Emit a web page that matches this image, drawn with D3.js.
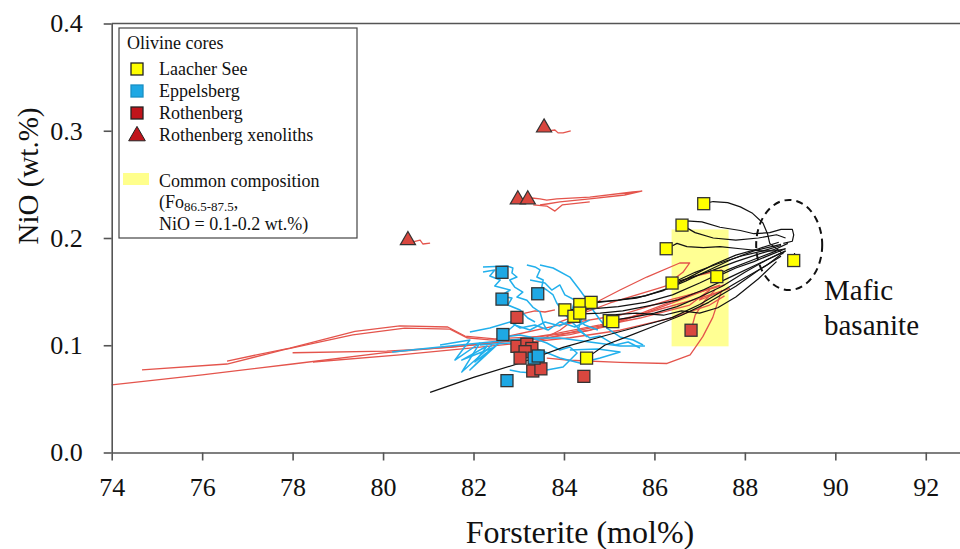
<!DOCTYPE html>
<html><head><meta charset="utf-8">
<script src="https://cdn.jsdelivr.net/npm/d3@7"></script>
<style>body{margin:0;background:#fff} svg{display:block} svg text{font-family:'Liberation Serif','Times New Roman',Tinos,'DejaVu Serif','Noto Serif',serif !important}</style>
</head><body><svg id="c" width="960" height="549"></svg>
<script>
// ---------- data ----------
const xTicks = [74,76,78,80,82,84,86,88,90,92];
const yTicks = [0.0,0.1,0.2,0.3,0.4];
const xDomain = [74,93];
const yDomain = [0,0.4];

// Common composition box (Fo, NiO)
const commonFo = [86.38,87.64];
const commonNiO = [0.099,0.208];
// Mafic basanite ellipse: centre and semi-axes (Fo, NiO)
const maficCentre = [88.98,0.1935];
const maficRadii = [0.73,0.042];

// Olivine cores
const laacherSee = [[87.09,0.232],[86.61,0.212],[86.26,0.190],[89.08,0.179],[86.39,0.158],[87.38,0.164],
  [84.02,0.133],[84.35,0.138],[84.60,0.140],[84.22,0.127],[84.35,0.130],[85.00,0.123],[85.08,0.122],[84.50,0.088]];
const eppelsberg = [[82.63,0.168],[82.63,0.143],[83.42,0.148],[82.65,0.110],[83.34,0.088],[83.43,0.090],[82.74,0.067]];
const rothenberg = [[82.96,0.126],[82.96,0.099],[83.18,0.101],[83.29,0.097],[83.14,0.094],[83.03,0.088],
  [83.31,0.076],[83.49,0.078],[84.44,0.071],[86.81,0.114]];
const xenoliths = [[83.56,0.302],[82.98,0.235],[83.20,0.235],[80.55,0.197]];

// Zoning profiles
const laacherProfiles = [
  [[87.09,0.232],[87.3,0.234],[87.62,0.233],[87.9,0.229],[88.17,0.223],[88.4,0.214],[88.5,0.204],[88.55,0.195],[88.7,0.19],[88.85,0.185]],
  [[86.61,0.212],[86.7,0.216],[87.05,0.215],[87.45,0.21],[87.9,0.207],[88.2,0.204],[88.55,0.205],[88.8,0.208],[89.05,0.208],[89.08,0.203],[89.05,0.197],[88.85,0.195]],
  [[86.61,0.212],[86.9,0.205],[87.3,0.2],[87.8,0.198],[88.3,0.2],[88.7,0.203],[88.9,0.2]],
  [[86.26,0.19],[86.39,0.1925],[86.5,0.195],[86.72,0.192],[87.08,0.191],[87.45,0.192],[87.9,0.19],[88.35,0.188],[88.65,0.188],[88.9,0.19]],
  [[89.08,0.179],[89.1,0.186]],
  [[86.39,0.158],[86.8,0.163],[87.3,0.17],[87.8,0.178],[88.3,0.185],[88.7,0.19],[88.95,0.195]],
  [[86.39,0.158],[86.9,0.168],[87.4,0.176],[87.9,0.183],[88.4,0.188],[88.8,0.193]],
  [[87.38,0.164],[87.8,0.172],[88.2,0.178],[88.6,0.185],[88.9,0.19]],
  [[84.6,0.14],[85.2,0.142],[85.8,0.146],[86.3,0.153],[86.8,0.164],[87.3,0.175],[87.8,0.184],[88.3,0.19],[88.75,0.196]],
  [[84.35,0.138],[85.0,0.141],[85.6,0.144],[86.2,0.151],[86.7,0.16],[87.2,0.17],[87.7,0.18],[88.2,0.188],[88.8,0.194]],
  [[84.02,0.133],[84.6,0.134],[85.2,0.136],[85.8,0.14],[86.4,0.147],[87.0,0.158],[87.6,0.17],[88.2,0.18],[88.7,0.188]],
  [[85.0,0.123],[85.5,0.126],[86.0,0.13],[86.5,0.136],[87.0,0.145],[87.5,0.155],[88.0,0.168],[88.5,0.18],[88.9,0.188]],
  [[84.29,0.129],[84.8,0.13],[85.3,0.132],[85.9,0.137],[86.5,0.142],[87.1,0.152],[87.7,0.164],[88.3,0.176],[88.8,0.186]],
  [[84.5,0.088],[84.9,0.1],[85.4,0.108],[86.0,0.118],[86.6,0.128],[87.2,0.14],[87.8,0.155],[88.3,0.17],[88.8,0.183]],
  [[81.04,0.056],[82.0,0.07],[83.0,0.083],[83.98,0.098],[85.0,0.11],[85.97,0.121],[86.4,0.126],[87.0,0.138],[87.8,0.158],[88.5,0.175],[88.9,0.188]],
  [[85.0,0.128],[85.6,0.13],[86.2,0.128],[86.6,0.132],[87.0,0.13],[87.4,0.135],[87.8,0.145],[88.3,0.162],[88.7,0.178]]
];
const rothenbergProfiles = [
  [[74.0,0.063],[76.0,0.0723],[78.0,0.0825],[80.0,0.0928],[81.9,0.1],[82.6,0.103],[83.5,0.106]],
  [[74.67,0.077],[76.55,0.0825],[77.79,0.0956],[79.33,0.1096],[80.48,0.116],[81.48,0.115],[81.85,0.107],[82.36,0.105],[83.25,0.105],[84.13,0.11],[85.0,0.118],[85.9,0.133],[86.78,0.147],[87.45,0.156]],
  [[76.55,0.0853],[77.94,0.0974],[79.38,0.113],[80.37,0.118],[81.43,0.117],[81.81,0.1086],[82.47,0.106],[83.47,0.108],[84.57,0.114],[85.67,0.128],[86.56,0.142],[87.22,0.153]],
  [[78.0,0.093],[80.08,0.0946],[81.48,0.098],[82.59,0.103],[83.69,0.11],[84.8,0.119],[85.9,0.131],[87.0,0.144],[87.67,0.153]],
  [[78.45,0.0844],[80.37,0.091],[81.92,0.0974],[83.03,0.102],[84.13,0.107],[85.24,0.114],[86.34,0.125],[87.22,0.1375],[87.55,0.146]],
  [[83.25,0.1],[83.91,0.114],[84.35,0.128],[84.8,0.142],[85.24,0.1515],[85.83,0.1636],[86.56,0.1767],[86.78,0.1767],[86.63,0.168],[86.47,0.163]],
  [[82.96,0.126],[83.14,0.13],[83.36,0.132],[83.58,0.131],[83.8,0.133]],
  [[83.62,0.088],[84.13,0.086],[85.24,0.084],[86.28,0.083],[86.79,0.091],[87.07,0.108],[87.29,0.126],[87.49,0.1515]],
  [[86.81,0.114],[86.9,0.128],[87.12,0.142],[87.34,0.1515]],
  [[82.59,0.1068],[83.91,0.1189],[85.24,0.1282],[86.34,0.1422],[87.0,0.1496],[87.55,0.1562]],
  [[83.03,0.1002],[84.35,0.1142],[85.68,0.1254],[86.78,0.1375],[87.22,0.1515],[87.0,0.1422],[87.45,0.1496]],
  [[83.91,0.1217],[85.02,0.1394],[86.12,0.1534],[87.0,0.1655],[87.49,0.1702]]
];
const xenolithProfiles = [
  [[83.56,0.302],[83.65,0.2998],[83.8,0.3007],[83.87,0.298],[83.98,0.298],[84.15,0.2998]],
  [[83.2,0.2345],[83.29,0.2373],[83.47,0.2364],[83.62,0.2354],[83.84,0.2364],[84.57,0.2382],[85.52,0.2429],[85.72,0.2438],[85.34,0.2401],[84.57,0.2364],[83.91,0.2336],[83.62,0.2317],[83.47,0.2308]],
  [[83.32,0.2308],[83.62,0.2298],[83.8,0.2251],[83.96,0.2308],[84.57,0.2336]],
  [[80.55,0.197],[80.66,0.1963],[80.82,0.1981],[80.88,0.1944],[81.04,0.1953]]
];
const eppelsbergProfiles = [
  [[82.21,0.173],[82.74,0.174],[82.87,0.172],[82.85,0.1674],[82.96,0.1636],[82.8,0.1608],[82.91,0.1543],[83.09,0.1496],[82.96,0.145],[83.18,0.142],[83.31,0.1356],[83.47,0.131],[83.54,0.1207],[83.62,0.1142]],
  [[83.18,0.1748],[83.36,0.173],[83.47,0.1702],[83.4,0.1636],[83.54,0.1608],[83.51,0.1543],[83.62,0.1515],[83.76,0.1469],[83.84,0.1394],[83.98,0.131],[84.13,0.1235],[84.29,0.117],[84.51,0.1077]],
  [[83.47,0.1748],[83.76,0.172],[84.13,0.1636],[84.35,0.1515],[84.51,0.1422],[84.64,0.1329],[84.8,0.1235],[84.95,0.116],[85.24,0.1077],[85.53,0.1049],[85.75,0.1002]],
  [[80.2,0.0937],[81.04,0.0974],[81.92,0.1012],[82.59,0.104],[83.25,0.1068],[83.91,0.1068],[84.57,0.103],[85.24,0.0993],[85.79,0.0993]],
  [[82.59,0.103],[81.92,0.0769],[82.41,0.0974],[81.74,0.0862],[82.3,0.0993],[82.03,0.0844],[82.54,0.1012]],
  [[82.65,0.1077],[83.03,0.1096],[83.25,0.1077],[83.62,0.1021],[83.91,0.0956],[84.13,0.0984],[84.29,0.0928],[83.98,0.0797],[83.62,0.0769],[83.31,0.0741],[83.03,0.0751],[82.8,0.0769]],
  [[82.65,0.1096],[82.91,0.1189],[83.25,0.1142],[83.58,0.1217],[83.91,0.118],[84.24,0.1254],[84.46,0.1189],[84.75,0.1142]],
  [[82.21,0.1683],[82.47,0.1702],[82.36,0.1646],[82.59,0.1608],[82.47,0.1552],[82.81,0.1515],[82.59,0.1459],[82.85,0.144],[82.76,0.1375],[83.03,0.1329],[83.2,0.1254],[83.36,0.1217]],
  [[83.25,0.1608],[83.58,0.158],[83.73,0.1515],[83.91,0.1562],[84.02,0.1469],[84.24,0.1422],[84.18,0.1329],[84.4,0.1254],[84.31,0.1142],[84.57,0.1068],[84.8,0.1086],[85.13,0.1002],[85.42,0.103],[85.68,0.0974]],
  [[82.14,0.1002],[82.8,0.1021],[83.47,0.0956],[83.91,0.0881],[84.35,0.0835],[84.8,0.0881],[85.24,0.0937],[84.75,0.0965],[84.13,0.0956]],
  [[81.92,0.1124],[82.36,0.1161],[82.81,0.1217],[83.03,0.1161],[83.36,0.1189],[83.65,0.1142],[83.91,0.1217],[84.24,0.117],[84.57,0.1235]],
  [[81.26,0.1002],[81.92,0.1049],[81.59,0.0862],[82.14,0.1021],[81.74,0.075],[82.41,0.1002]]
];

const legendItems = ["Laacher See","Eppelsberg","Rothenberg","Rothenberg xenoliths"];

// ---------- drawing ----------
const FONT = "'Liberation Serif','Times New Roman',Tinos,'DejaVu Serif',serif";
const svg = d3.select("#c");
const x = d3.scaleLinear().domain(xDomain).range([111.7, 971]);
const y = d3.scaleLinear().domain(yDomain).range([452.5, 23.5]);
const axisColor = "#555";

const plot = svg.append("g");
plot.append("rect")
  .attr("x", x(commonFo[0])).attr("y", y(commonNiO[1]))
  .attr("width", x(commonFo[1]) - x(commonFo[0])).attr("height", y(commonNiO[0]) - y(commonNiO[1]))
  .attr("fill", "#ffff80").attr("opacity", 0.85);

const line = d3.line().x(d => x(d[0])).y(d => y(d[1]));
function drawProfiles(data, color, w) {
  plot.append("g").selectAll("path").data(data).join("path")
    .attr("d", line).attr("fill", "none").attr("stroke", color)
    .attr("stroke-width", w).attr("stroke-linejoin", "round");
}
drawProfiles(rothenbergProfiles, "#e4544c", 1.3);
drawProfiles(xenolithProfiles, "#e4544c", 1.3);
drawProfiles(eppelsbergProfiles, "#22b0ec", 1.5);
drawProfiles(laacherProfiles, "#111", 1.2);

plot.append("ellipse")
  .attr("cx", x(maficCentre[0])).attr("cy", y(maficCentre[1]))
  .attr("rx", x(maficCentre[0] + maficRadii[0]) - x(maficCentre[0]))
  .attr("ry", y(maficCentre[1] - maficRadii[1]) - y(maficCentre[1]))
  .attr("fill", "none").attr("stroke", "#111").attr("stroke-width", 2).attr("stroke-dasharray", "7,5");

const sq = 12;
function squares(data, fill) {
  plot.append("g").selectAll("rect").data(data).join("rect")
    .attr("x", d => x(d[0]) - sq/2).attr("y", d => y(d[1]) - sq/2)
    .attr("width", sq).attr("height", sq)
    .attr("fill", fill).attr("stroke", "#333").attr("stroke-width", 1.3);
}
squares(rothenberg, "#d9473f");
squares(eppelsberg, "#1ea8e4");
squares(laacherSee, "#ffff00");
const tri = d3.symbol().type(d3.symbolTriangle).size(100);
plot.append("g").selectAll("path").data(xenoliths).join("path")
  .attr("d", tri).attr("transform", d => `translate(${x(d[0])},${y(d[1]) - 1})`)
  .attr("fill", "#d9473f").attr("stroke", "#333").attr("stroke-width", 1.2);

const lab = svg.append("text").attr("font-family", FONT).attr("font-size", 29).attr("fill", "#111");
lab.append("tspan").attr("x", 824).attr("y", 300).text("Mafic");
lab.append("tspan").attr("x", 824).attr("y", 335).text("basanite");

const xAxis = svg.append("g").attr("transform", `translate(0,${y(0)})`)
  .call(d3.axisBottom(x).tickValues(xTicks).tickSize(8).tickSizeOuter(0).tickPadding(17).tickFormat(d3.format("d")));
const yAxis = svg.append("g").attr("transform", `translate(${x(74)},0)`)
  .call(d3.axisLeft(y).tickValues(yTicks).tickSize(8).tickSizeOuter(0).tickPadding(21).tickFormat(d3.format(".1f")));
[xAxis, yAxis].forEach(a => {
  a.attr("font-family", FONT);
  a.select(".domain").attr("stroke", axisColor).attr("stroke-width", 1.6);
  a.selectAll(".tick line").attr("stroke", axisColor).attr("stroke-width", 1.6);
  a.selectAll(".tick text").attr("font-size", 26).attr("fill", "#111").attr("font-family", FONT);
});
svg.append("line").attr("x1", x(74)).attr("x2", 960).attr("y1", y(0.4)).attr("y2", y(0.4))
  .attr("stroke", axisColor).attr("stroke-width", 1.6);

svg.append("text").attr("x", 580).attr("y", 543).attr("text-anchor", "middle").attr("font-family", FONT)
  .attr("font-size", 32).attr("fill", "#111").text("Forsterite (mol%)");
svg.append("text").attr("transform", "translate(38,176) rotate(-90)").attr("text-anchor", "middle").attr("font-family", FONT)
  .attr("font-size", 29).attr("fill", "#111").text("NiO (wt.%)");

const lg = svg.append("g").attr("font-family", FONT);
lg.append("rect").attr("x", 119).attr("y", 28).attr("width", 238).attr("height", 210)
  .attr("fill", "#fff").attr("stroke", "#444").attr("stroke-width", 1.2);
lg.append("text").attr("x", 127).attr("y", 49).attr("font-size", 18).attr("fill", "#111").text("Olivine cores");
const lgColors = ["#ffff00","#1ea8e4","#c0141b","#c0141b"];
legendItems.forEach((name, i) => {
  const cy = 69 + i * 22;
  if (i < 3) {
    lg.append("rect").attr("x", 131).attr("y", cy - 6).attr("width", 12).attr("height", 12)
      .attr("fill", lgColors[i]).attr("stroke", i === 1 ? "#1a8fc4" : "#222").attr("stroke-width", 1.3);
  } else {
    lg.append("path").attr("d", d3.symbol().type(d3.symbolTriangle).size(120))
      .attr("transform", `translate(137,${cy + 1})`).attr("fill", lgColors[i]).attr("stroke", "#222").attr("stroke-width", 1);
  }
  lg.append("text").attr("x", 159).attr("y", cy + 6).attr("font-size", 18).attr("fill", "#111").text(name);
});
lg.append("rect").attr("x", 123).attr("y", 173).attr("width", 26).attr("height", 12).attr("fill", "#ffff8c");
lg.append("text").attr("x", 159).attr("y", 187).attr("font-size", 18).attr("fill", "#111").text("Common composition");
const t2 = lg.append("text").attr("x", 159).attr("y", 208).attr("font-size", 18).attr("fill", "#111");
t2.append("tspan").text("(Fo");
t2.append("tspan").attr("font-size", 13).attr("dy", 3).text("86.5-87.5");
t2.append("tspan").attr("dy", -3).text(",");
lg.append("text").attr("x", 159).attr("y", 230).attr("font-size", 18).attr("fill", "#111").text("NiO = 0.1-0.2 wt.%)");
</script></body></html>
